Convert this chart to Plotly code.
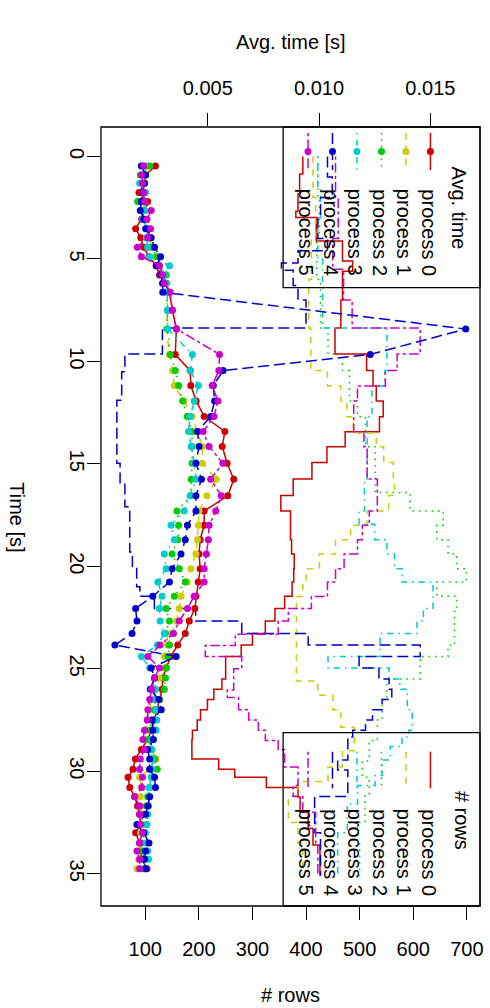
import plotly.graph_objects as go

# ---------------- data ----------------
PROCESSES = ["process 0", "process 1", "process 2", "process 3", "process 4", "process 5"]
COLORS = ["#CC0000", "#CCCC00", "#00CC00", "#00CCCC", "#0000CC", "#CC00CC"]
DASHES = ["solid", "6.4px,6.4px", "1.6px,4.8px", "1.6px,4.8px,6.4px,4.8px", "11px,5px", "3.2px,3.2px,9.6px,3.2px"]

# sample times of the average-time series [s]
T_AVG = [0.46, 0.90, 1.31, 1.76, 2.19, 2.63, 3.06, 3.52, 3.97, 4.43, 4.89, 5.33, 5.78, 6.19, 6.63,
         7.5, 8.42, 9.66, 10.45, 11.18, 11.93, 12.69, 13.42, 14.15, 14.97, 15.75, 16.56, 17.3, 18.0,
         18.7, 19.4, 20.12, 20.77, 21.46, 22.06, 22.67, 23.28, 23.84, 24.4, 24.96, 25.45, 26.0, 26.5,
         27.0, 27.5, 28.0, 28.45, 28.94, 29.4, 29.9, 30.3, 30.8, 31.25, 31.7, 32.1, 32.6, 33.0, 33.5,
         33.9, 34.3, 34.76]
T_AVG_P4 = [0.46, 0.90, 1.31, 1.76, 2.19, 2.63, 3.06, 3.52, 3.97, 4.43, 4.89, 5.33, 5.78, 6.19, 6.63,
            8.42, 9.66, 10.45, 11.18, 11.93, 12.69, 13.42, 14.15, 14.97, 15.75, 16.56, 17.3, 18.0,
            18.7, 19.4, 20.12, 20.77, 21.46, 22.06, 22.67, 23.28, 23.84, 24.4, 24.96, 25.45, 26.0, 26.5,
            27.0, 27.5, 28.0, 28.45, 28.94, 29.4, 29.9, 30.3, 30.8, 31.25, 31.7, 32.1, 32.6, 33.0, 33.5,
            33.9, 34.3, 34.76]

# average time per request [ms]
AVG_P0_MS = [2.65, 2.21, 2.16, 1.91, 2.30, 2.16, 2.03, 1.76, 1.99, 2.12, 2.36, 2.68, 2.83, 3.13, 3.28,
             3.41, 3.59, 3.54, 4.21, 4.24, 4.48, 4.84, 5.77, 5.65, 5.87, 6.17, 5.90, 4.84, 4.84, 4.66,
             4.61, 4.66, 4.57, 4.47, 4.42, 4.17, 3.99, 3.65, 3.35, 3.13, 2.98, 2.95, 2.83, 2.74, 2.61,
             2.48, 2.30, 2.02, 1.75, 1.64, 1.42, 1.50, 1.72, 1.85, 1.94, 1.99, 1.76, 1.94, 1.99, 2.03, 2.27]
AVG_P1_MS = [2.28, 2.16, 2.12, 2.07, 2.16, 2.21, 2.21, 2.30, 2.39, 2.48, 2.65, 2.83, 3.01, 3.10, 3.19,
             3.19, 3.14, 3.28, 3.42, 3.50, 3.94, 4.30, 4.52, 4.76, 4.76, 5.38, 4.96, 4.61, 4.58, 4.54,
             4.47, 4.24, 4.08, 3.80, 3.72, 3.60, 3.37, 3.19, 3.05, 3.05, 2.83, 2.65, 2.49, 2.39, 2.30,
             2.20, 2.30, 2.48, 2.68, 2.39, 1.94, 2.03, 1.97, 1.99, 2.07, 2.03, 1.99, 1.99, 1.94, 1.90, 1.82]
AVG_P2_MS = [2.39, 1.97, 2.07, 2.16, 1.85, 2.03, 2.16, 2.25, 2.34, 2.48, 2.74, 2.83, 3.13, 3.14, 3.14,
             3.19, 3.19, 3.32, 3.54, 3.69, 3.87, 4.08, 4.29, 4.29, 4.30, 4.26, 4.24, 3.62, 3.69, 3.65,
             3.40, 3.72, 3.99, 3.50, 3.13, 3.28, 3.10, 3.28, 3.20, 3.14, 3.10, 3.05, 2.83, 2.61, 2.48,
             2.39, 2.36, 2.48, 2.61, 2.73, 2.52, 2.39, 2.30, 2.25, 2.21, 2.25, 2.16, 2.02, 2.07, 2.12, 2.21]
AVG_P3_MS = [2.16, 2.07, 1.94, 2.21, 2.12, 2.16, 2.07, 2.30, 2.24, 2.30, 2.39, 3.28, 3.05, 3.10, 3.19,
             3.19, 3.20, 4.31, 4.21, 4.58, 4.39, 4.21, 4.14, 4.26, 4.39, 4.48, 4.21, 3.94, 3.35, 3.50,
             3.05, 3.13, 2.76, 2.95, 2.83, 2.86, 3.05, 2.74, 2.02, 2.39, 2.61, 2.65, 2.61, 2.68, 2.71,
             2.68, 2.48, 2.46, 2.52, 2.48, 2.46, 2.36, 2.39, 2.34, 2.31, 2.27, 2.20, 2.25, 2.30, 2.34, 2.12]
AVG_P4_MS = [2.02, 2.20, 2.16, 2.07, 2.02, 1.97, 2.12, 2.21, 2.46, 2.61, 2.88, 2.71, 2.91, 2.97, 2.98,
             16.59, 12.30, 5.69, 5.25, 5.31, 5.13, 4.54, 4.61, 4.47, 4.72, 4.47, 4.47, 4.09, 3.99,
             3.80, 3.40, 3.28, 2.53, 1.76, 1.82, 1.60, 0.83, 3.58, 2.46, 2.61, 2.42, 2.80, 2.91, 2.51,
             2.53, 2.56, 2.30, 2.39, 2.39, 2.61, 2.65, 2.39, 2.31, 2.21, 1.82, 2.12, 2.36, 2.21, 2.16, 2.21]
AVG_P5_MS = [2.12, 2.03, 2.07, 2.12, 2.16, 2.46, 2.27, 2.43, 2.30, 1.84, 2.02, 2.83, 2.97, 3.05, 3.31,
             3.41, 3.60, 5.53, 5.50, 5.20, 5.46, 5.28, 4.79, 5.06, 5.68, 5.13, 5.61, 5.36, 5.06, 5.03,
             4.94, 4.84, 4.84, 4.39, 4.09, 3.72, 3.46, 2.86, 2.31, 2.83, 2.61, 2.48, 2.39, 2.31, 2.28,
             2.16, 2.09, 2.16, 1.97, 1.94, 2.07, 2.04, 1.72, 1.94, 1.94, 1.99, 2.07, 1.94, 1.82, 1.94, 1.94]

# number of rows (step series), each with its own change times [s]
T_ROWS_P0 = [0, 0.85, 1.83, 2.67, 2.98, 4.12, 5.1, 5.6, 7.0, 8.37, 9.64, 10.45, 11.2, 11.93, 12.7, 13.43,
             14.16, 14.94, 15.74, 16.55, 17.3, 18.7, 19.4, 20.12, 20.77, 21.46, 22.06, 22.67, 23.28,
             23.84, 24.4, 25.5, 26.0, 26.5, 27.0, 27.5, 28.0, 28.45, 29.4, 29.9, 30.3, 30.8, 31.26,
             32.0, 32.8, 33.6, 35.1]
ROWS_P0 = [394, 388, 385, 381, 419, 468, 487, 468, 465, 454, 513, 525, 531, 544, 537, 473,
           439, 411, 376, 353, 371, 373, 378, 377, 374, 360, 342, 324, 300,
           279, 250, 243, 228, 216, 203, 197, 188, 187, 237, 267, 326, 385, 389,
           404, 413, 426, 426]
T_ROWS_P1 = [0, 2.0, 4.0, 6.0, 8.37, 10.45, 11.2, 11.93, 12.7, 13.5, 14.16, 14.94, 15.74, 16.55, 17.3,
             18.0, 18.7, 19.4, 20.12, 20.77, 21.48, 25.6, 26.3, 27.0, 27.85, 29.0, 29.8, 30.5, 31.2,
             32.5, 33.5, 35.1]
ROWS_P1 = [413, 418, 410, 405, 409, 440, 465, 476, 488, 531, 545, 563, 565, 554, 514,
           483, 455, 425, 400, 394, 382, 422, 450, 465, 490, 468, 441, 385, 367,
           385, 394, 394]
T_ROWS_P2 = [0, 2.0, 4.0, 6.0, 8.37, 9.64, 10.45, 11.93, 12.7, 14.16, 16.4, 17.3, 18.0, 18.7, 19.4,
             20.12, 20.77, 21.46, 22.2, 23.87, 24.4, 25.5, 26.5, 27.5, 28.5, 29.5, 30.3, 31.2, 32.5,
             33.5, 35.1]
ROWS_P2 = [422, 425, 420, 427, 441, 468, 481, 496, 511, 529, 594, 656, 644, 665, 681,
           699, 644, 681, 677, 665, 613, 551, 542, 533, 518, 505, 518, 510, 496,
           500, 500]
T_ROWS_P3 = [0, 1.5, 3.0, 5.0, 8.37, 10.45, 11.2, 12.7, 15.74, 17.3, 17.95, 18.7, 19.4, 20.12, 20.77,
             22.06, 22.67, 23.28, 24.4, 24.96, 25.5, 26.0, 27.0, 28.0, 28.33, 28.8, 29.45, 30.2, 30.7,
             31.6, 33.0, 35.1]
ROWS_P3 = [422, 427, 422, 431, 551, 547, 523, 514, 509, 499, 528, 551, 565, 579, 637,
           619, 607, 538, 441, 555, 575, 589, 598, 592, 579, 557, 542, 529, 496,
           477, 459, 459]
T_ROWS_P4 = [0, 1.0, 2.0, 3.0, 4.0, 4.6, 5.2, 5.55, 6.3, 7.0, 8.37, 9.64, 10.5, 11.9, 14.97, 16.0,
             17.1, 19.3, 20.0, 21.0, 21.46, 22.06, 22.67, 23.28, 23.84, 24.4, 24.96, 25.5, 26.0, 26.5,
             27.0, 27.5, 28.0, 28.33, 29.45, 29.94, 31.24, 33.0, 35.1]
ROWS_P4 = [440, 449, 427, 422, 440, 385, 354, 376, 385, 400, 132, 62, 56, 47, 53, 62,
           71, 76, 84, 90, 117, 194, 280, 404, 613, 499, 536, 555, 560, 542,
           524, 511, 487, 478, 459, 478, 416, 427, 427]
T_ROWS_P5 = [0, 2.0, 4.0, 5.5, 7.0, 8.37, 9.64, 10.45, 11.2, 11.93, 13.43, 14.16, 15.74, 17.3, 18.0,
             18.7, 19.4, 20.12, 20.77, 21.48, 22.06, 22.67, 23.32, 23.87, 24.4, 25.0, 26.04, 26.4, 27.0,
             27.5, 28.0, 28.5, 28.96, 29.8, 30.7, 31.24, 32.0, 33.5, 35.1]
ROWS_P5 = [455, 460, 450, 470, 486, 613, 570, 548, 496, 489, 508, 514, 533, 518, 505,
           496, 471, 455, 440, 410, 367, 348, 268, 212, 280, 265, 253, 274, 293,
           311, 324, 348, 360, 385, 376, 394, 418, 422, 422]

T_AVG_LIST = [T_AVG, T_AVG, T_AVG, T_AVG, T_AVG_P4, T_AVG]
AVG_LIST = [AVG_P0_MS, AVG_P1_MS, AVG_P2_MS, AVG_P3_MS, AVG_P4_MS, AVG_P5_MS]
T_ROWS_LIST = [T_ROWS_P0, T_ROWS_P1, T_ROWS_P2, T_ROWS_P3, T_ROWS_P4, T_ROWS_P5]
ROWS_LIST = [ROWS_P0, ROWS_P1, ROWS_P2, ROWS_P3, ROWS_P4, ROWS_P5]

ROWS_TICKS = [100, 200, 300, 400, 500, 600, 700]
AVG_TICKS = [0.005, 0.010, 0.015]
AVG_TICK_TEXT = ["0.005", "0.010", "0.015"]
TIME_TICKS = [0, 5, 10, 15, 20, 25, 30, 35]

# ---------------- figure ----------------
W, H = 490, 1008
L, R, T, B = 101, 483.3, 127, 906
FONT = "Liberation Sans, Arial, Helvetica, sans-serif"
FS = 20


def px(xp):
    return (xp - L) / (R - L)


def py(yp):
    return (B - yp) / (B - T)


fig = go.Figure()

for i in range(6):
    fig.add_trace(go.Scatter(
        x=[v / 1000.0 for v in AVG_LIST[i]], y=T_AVG_LIST[i],
        xaxis="x2", yaxis="y", mode="lines+markers",
        line=dict(color=COLORS[i], width=1.5, dash=DASHES[i]),
        marker=dict(color=COLORS[i], size=7, symbol="circle"),
        name=PROCESSES[i], showlegend=False))

for i in range(6):
    fig.add_trace(go.Scatter(
        x=ROWS_LIST[i], y=T_ROWS_LIST[i], xaxis="x", yaxis="y", mode="lines",
        line=dict(color=COLORS[i], width=1.5, dash=DASHES[i], shape="vh"),
        name=PROCESSES[i], showlegend=False))

axis_common = dict(showgrid=False, zeroline=False, showline=False, ticks="outside",
                   ticklen=13, tickwidth=1.3, tickcolor="black",
                   tickfont=dict(family=FONT, size=FS, color="black"))

fig.update_layout(
    width=W, height=H,
    margin=dict(l=L, r=W - R, t=T, b=H - B, pad=0),
    plot_bgcolor="white", paper_bgcolor="white",
    showlegend=False,
    xaxis=dict(range=[17.4, 724.6], tickvals=ROWS_TICKS, ticklabelstandoff=12, **axis_common),
    xaxis2=dict(range=[0.000205, 0.01723], overlaying="x", side="top", anchor="y",
                tickvals=AVG_TICKS, ticktext=AVG_TICK_TEXT, ticklabelstandoff=10, **axis_common),
    yaxis=dict(range=[36.58, -1.44], tickvals=TIME_TICKS, tickangle=90, ticklabelstandoff=-7, **axis_common),
)

shapes = [dict(type="rect", xref="paper", yref="paper", x0=0, x1=1, y0=0, y1=1,
               line=dict(color="black", width=1.3), layer="above")]
# legend boxes
shapes.append(dict(type="rect", xref="paper", yref="paper", x0=px(284.7), x1=1, y0=py(287.7), y1=1,
                   line=dict(color="black", width=1.3), layer="above"))
shapes.append(dict(type="rect", xref="paper", yref="paper", x0=px(284.7), x1=1, y0=0, y1=py(732.7),
                   line=dict(color="black", width=1.3), layer="above"))

annotations = []
entry_x = [432.0, 407.3, 382.6, 357.9, 333.2, 308.5]
sym_x = [433.3, 408.6, 383.9, 359.2, 334.5, 309.8]
for i in range(6):
    # avg time legend symbol
    shapes.append(dict(type="line", xref="paper", yref="paper", x0=px(sym_x[i]), x1=px(sym_x[i]),
                       y0=py(133), y1=py(170), line=dict(color=COLORS[i], width=1.5, dash=DASHES[i])))
    shapes.append(dict(type="circle", xref="paper", yref="paper", xsizemode="pixel", ysizemode="pixel",
                       xanchor=px(sym_x[i]), yanchor=py(151.6), x0=-3.5, x1=3.5, y0=-3.5, y1=3.5,
                       fillcolor=COLORS[i], line=dict(width=0)))
    # rows legend symbol
    shapes.append(dict(type="line", xref="paper", yref="paper", x0=px(sym_x[i]), x1=px(sym_x[i]),
                       y0=py(751.7), y1=py(788.3), line=dict(color=COLORS[i], width=1.5, dash=DASHES[i])))
    annotations.append(dict(text=PROCESSES[i], xref="paper", yref="paper", x=px(entry_x[i]), y=py(232.5),
                            textangle=90, showarrow=False, xanchor="center", yanchor="middle",
                            font=dict(family=FONT, size=FS, color="black")))
    annotations.append(dict(text=PROCESSES[i], xref="paper", yref="paper", x=px(entry_x[i]), y=py(852.5),
                            textangle=90, showarrow=False, xanchor="center", yanchor="middle",
                            font=dict(family=FONT, size=FS, color="black")))

annotations.append(dict(text="Avg. time", xref="paper", yref="paper", x=px(461.7), y=py(208),
                        textangle=90, showarrow=False, xanchor="center", yanchor="middle",
                        font=dict(family=FONT, size=FS, color="black")))
annotations.append(dict(text="# rows", xref="paper", yref="paper", x=px(465), y=py(820.8),
                        textangle=90, showarrow=False, xanchor="center", yanchor="middle",
                        font=dict(family=FONT, size=FS, color="black")))
# axis titles
annotations.append(dict(text="Avg. time [s]", xref="paper", yref="paper", x=px(292.2), y=py(41.7),
                        showarrow=False, xanchor="center", yanchor="middle",
                        font=dict(family=FONT, size=FS, color="black")))
annotations.append(dict(text="# rows", xref="paper", yref="paper", x=px(292.2), y=py(995),
                        showarrow=False, xanchor="center", yanchor="middle",
                        font=dict(family=FONT, size=FS, color="black")))
annotations.append(dict(text="Time [s]", xref="paper", yref="paper", x=px(16), y=py(517),
                        textangle=90, showarrow=False, xanchor="center", yanchor="middle",
                        font=dict(family=FONT, size=FS, color="black")))

fig.update_layout(shapes=shapes, annotations=annotations)
fig.write_html("out.html")
